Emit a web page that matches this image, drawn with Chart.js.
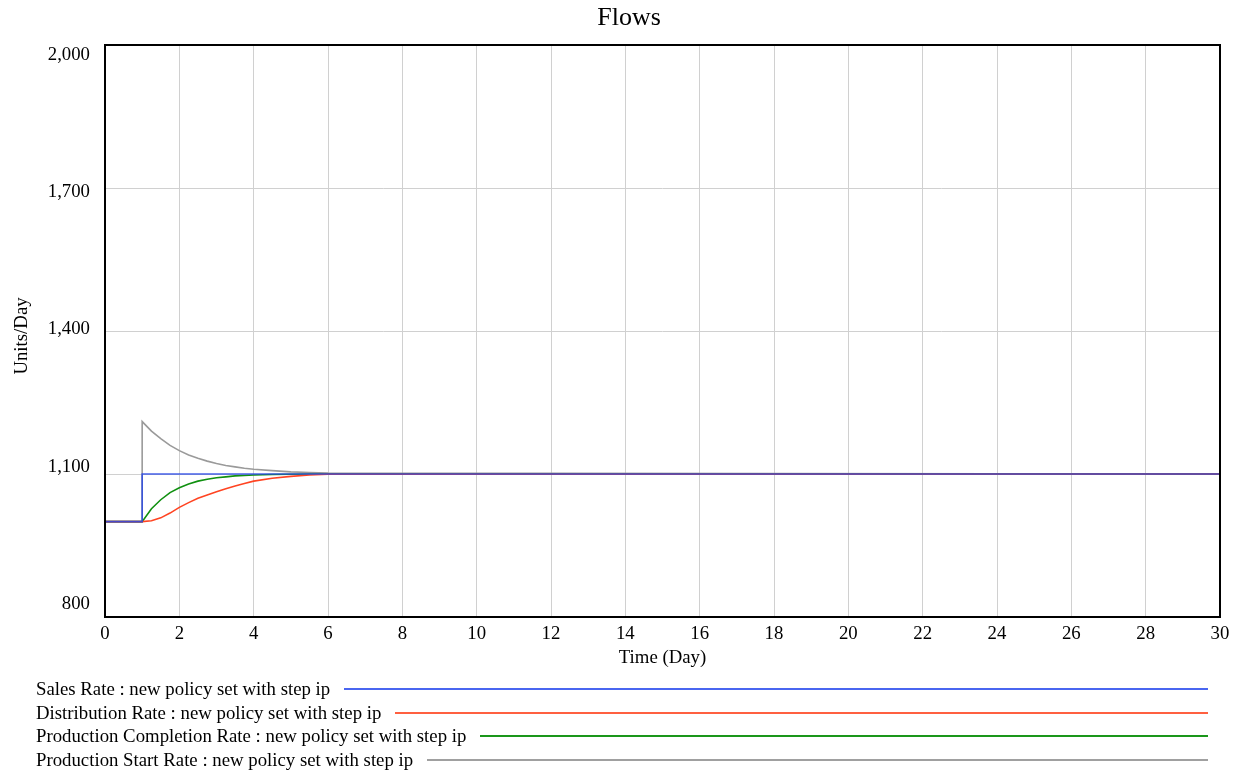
<!DOCTYPE html>
<html>
<head>
<meta charset="utf-8">
<script src="https://cdn.jsdelivr.net/npm/chart.js@4"></script>
<style>
  body { margin: 0; background: #fff; font-family: "Liberation Serif", "Times New Roman", serif; }
  #wrap { position: relative; width: 1241px; height: 774px; }
  #box { position: absolute; left: 0; top: 0; width: 1241px; height: 680px; }
  #legend { position: absolute; left: 36px; top: 677px; width: 1172px; }
  .row { display: flex; align-items: center; height: 23.7px; font-size: 18.8px; color: #000; white-space: nowrap; }
  .row .ln { flex: 1; margin-left: 14px; height: 0; border-top: 2px solid; }
</style>
</head>
<body>
<div id="wrap">
  <div id="box"><canvas id="flows"></canvas></div>
  <div id="legend"></div>
</div>
<script>
/* data */
const times = [0, 1, 1, 1.25, 1.5, 1.75, 2, 2.25, 2.5, 2.75, 3, 3.25, 3.5, 3.75, 4, 4.5, 5, 5.5, 6, 30];
const salesRate = [1000, 1000, 1100, 1100, 1100, 1100, 1100, 1100, 1100, 1100, 1100, 1100, 1100, 1100, 1100, 1100, 1100, 1100, 1100, 1100];
const distributionRate = [1000, 1000, 1000, 1002, 1008, 1018, 1030, 1040, 1049, 1056, 1063, 1069, 1075, 1080, 1085, 1091, 1095, 1098, 1099.5, 1100];
const completionRate = [1000, 1000, 1000, 1027, 1046, 1061, 1071, 1079, 1085, 1089, 1092, 1094, 1096, 1097, 1098, 1099, 1099.5, 1100, 1100, 1100];
const startRate = [1000, 1000, 1210, 1190, 1174, 1160, 1149, 1140, 1133, 1127, 1122, 1118, 1115, 1112, 1110, 1107, 1104.5, 1103, 1102, 1100];
const xTicks = [0, 2, 4, 6, 8, 10, 12, 14, 16, 18, 20, 22, 24, 26, 28, 30];
const yTicks = [800, 1100, 1400, 1700, 2000];

const serif = '"Liberation Serif", "Times New Roman", serif';

const series = [
  { label: "Sales Rate : new policy set with step ip", values: salesRate, color: "rgba(40,70,230,0.85)", legend: "#4a66f0" },
  { label: "Distribution Rate : new policy set with step ip", values: distributionRate, color: "#ff4422", legend: "#ff6040" },
  { label: "Production Completion Rate : new policy set with step ip", values: completionRate, color: "#109010", legend: "#1a961a" },
  { label: "Production Start Rate : new policy set with step ip", values: startRate, color: "#9a9a9a", legend: "#a0a0a0" },
];

function toPoints(vals) {
  return times.map(function (t, i) { return { x: t, y: vals[i] }; });
}

/* legend below the chart */
const legendBox = document.getElementById("legend");
series.forEach(function (s) {
  const row = document.createElement("div");
  row.className = "row";
  row.innerHTML = "<span>" + s.label + "</span><span class='ln' style='border-color:" + s.legend + "'></span>";
  legendBox.appendChild(row);
});

/* frame, titles and vensim-style y labels */
const decor = {
  id: "decor",
  afterDraw: function (chart) {
    const ctx = chart.ctx;
    const a = chart.chartArea;
    const ys = chart.scales.y;
    ctx.save();
    ctx.strokeStyle = "#000";
    ctx.lineWidth = 2;
    ctx.strokeRect(a.left, a.top, a.right - a.left, a.bottom - a.top);

    ctx.fillStyle = "#000";
    ctx.font = "18.8px " + serif;
    ctx.textAlign = "right";
    ctx.textBaseline = "middle";
    yTicks.forEach(function (v) {
      const frac = (v - ys.min) / (ys.max - ys.min);
      const off = -13 + 23 * frac;
      ctx.fillText(v.toLocaleString("en-US"), 90, ys.getPixelForValue(v) + off);
    });

    ctx.textAlign = "center";
    ctx.fillText("Time (Day)", (a.left + a.right) / 2, a.bottom + 41);

    ctx.save();
    ctx.translate(22, (a.top + a.bottom) / 2 + 5);
    ctx.rotate(-Math.PI / 2);
    ctx.fillText("Units/Day", 0, 0);
    ctx.restore();

    ctx.font = "26px " + serif;
    ctx.fillText("Flows", 629, 18);
    ctx.restore();
  },
};

new Chart(document.getElementById("flows"), {
  type: "line",
  data: {
    datasets: series.map(function (s) {
      return {
        label: s.label,
        data: toPoints(s.values),
        borderColor: s.color,
        borderWidth: 1.6,
        pointRadius: 0,
        tension: 0,
        fill: false,
      };
    }),
  },
  options: {
    responsive: true,
    maintainAspectRatio: false,
    animation: false,
    layout: { padding: { top: 45, right: 21, left: 0, bottom: 0 } },
    plugins: { legend: { display: false }, tooltip: { enabled: false }, title: { display: false } },
    scales: {
      x: {
        type: "linear",
        min: 0,
        max: 30,
        afterBuildTicks: function (s) { s.ticks = xTicks.map(function (v) { return { value: v }; }); },
        afterFit: function (s) { s.height = 63; },
        ticks: { color: "#000", padding: 6, font: { family: serif, size: 18.8 } },
        grid: { color: "#d0d0d0", lineWidth: 1, drawTicks: false },
        border: { display: false },
      },
      y: {
        min: 800,
        max: 2000,
        afterBuildTicks: function (s) { s.ticks = yTicks.map(function (v) { return { value: v }; }); },
        afterFit: function (s) { s.width = 105; },
        ticks: { display: false },
        grid: { color: "#d0d0d0", lineWidth: 1, drawTicks: false },
        border: { display: false },
      },
    },
  },
  plugins: [decor],
});
</script>
</body>
</html>
